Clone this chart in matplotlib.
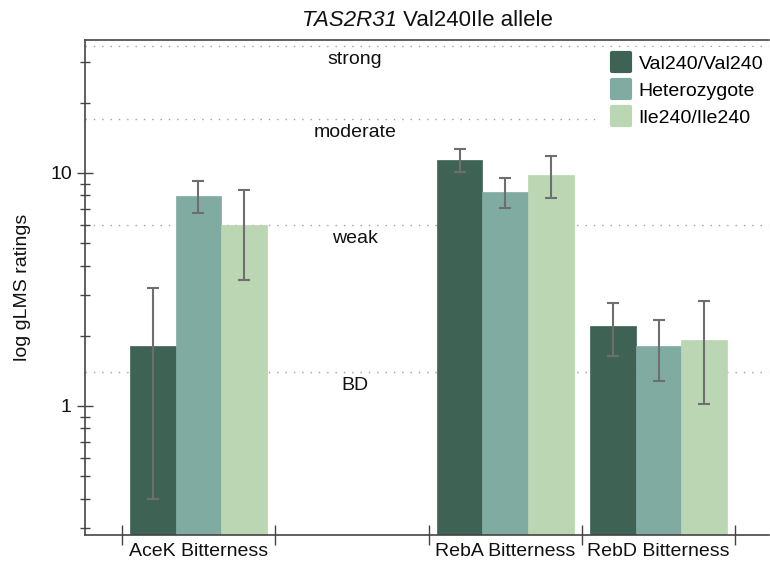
import matplotlib
matplotlib.use("Agg")
import matplotlib.pyplot as plt
import numpy as np
from matplotlib.lines import Line2D
from matplotlib.markers import MarkerStyle
from matplotlib.ticker import FixedLocator, NullFormatter, FixedFormatter, LogLocator

plt.rcParams['font.family'] = ['Liberation Sans', 'DejaVu Sans']

categories = ["AceK Bitterness", "", "RebA Bitterness", "RebD Bitterness"]
genotypes = ["Val240/Val240", "Heterozygote", "Ile240/Ile240"]
colors = ["#3e6355", "#80aba1", "#bad6b3"]

# means per genotype for each category (empty slot = nan)
val_val = [1.8, np.nan, 11.4, 2.2]
hetero = [7.96, np.nan, 8.29, 1.81]
ile_ile = [5.98, np.nan, 9.8, 1.92]
val_val_err = [1.4, np.nan, 1.3, 0.57]
hetero_err = [1.25, np.nan, 1.22, 0.53]
ile_ile_err = [2.5, np.nan, 2.03, 0.9]

gLMS_levels = [35, 17, 6, 1.4]
gLMS_labels = ["strong", "moderate", "weak", "BD"]

title_gene = "TAS2R31"
title_rest = " Val240Ile allele"

fig = plt.figure(figsize=(7.7, 5.66), dpi=100)
ax = fig.add_axes([85/770, 1 - 535/566, (769 - 85)/770, (535 - 40)/566])

x = np.arange(len(categories))
w = 0.297
means = [val_val, hetero, ile_ile]
errs = [val_val_err, hetero_err, ile_ile_err]
for i, (m, e, c) in enumerate(zip(means, errs, colors)):
    m = np.array(m, dtype=float)
    e = np.array(e, dtype=float)
    ok = ~np.isnan(m)
    pos = x[ok] + (i - 1) * w
    ax.bar(pos, m[ok], width=w, color=c, edgecolor=c, linewidth=0.5, zorder=2)
    ax.errorbar(pos, m[ok], yerr=e[ok], fmt='none', ecolor='#6e6e6e',
                elinewidth=1.5, capsize=4, capthick=1.5, zorder=3)

ax.set_yscale('log')
ax.set_ylim(0.279, 37.2)
ax.set_xlim(-0.74, 3.72)

for lvl, lab in zip(gLMS_levels, gLMS_labels):
    ax.axhline(lvl, color='#a0a0a0', lw=1.0, linestyle=(0, (1, 5)), zorder=1)
    ax.text(1.02, lvl * 0.95, lab, ha='center', va='top', fontsize=14, color='#111111')

# y ticks
ax.yaxis.set_major_locator(FixedLocator([1, 10]))
ax.yaxis.set_major_formatter(FixedFormatter(["1", "10"]))
ax.yaxis.set_minor_locator(LogLocator(base=10, subs=np.arange(2, 10)))
ax.yaxis.set_minor_formatter(NullFormatter())
ax.tick_params(axis='y', which='major', direction='inout', length=12, width=1, colors='#444444',
               labelcolor='#111111', labelsize=14)
ax.tick_params(axis='y', which='minor', direction='inout', length=7, width=1, colors='#444444')

# x ticks: boundaries as ticks, labels at centers
ax.set_xticks(np.arange(len(categories) + 1) - 0.5)
ax.set_xticklabels([])
ax.set_xticks(x, minor=True)
ax.set_xticklabels(categories, minor=True)
ax.tick_params(axis='x', which='major', direction='inout', length=14, width=1, colors='#444444')
ax.tick_params(axis='x', which='minor', length=0, labelsize=14, labelcolor='#111111', pad=6)

for s in ['left', 'bottom', 'top']:
    ax.spines[s].set_color('#444444')
    ax.spines[s].set_linewidth(1.2)
ax.spines['right'].set_visible(False)

ax.set_ylabel("log gLMS ratings", fontsize=14, color='#111111', labelpad=14)

# title: italic gene name + regular rest, centered over axes
renderer = fig.canvas.get_renderer()
t1 = fig.text(0, 0, title_gene, fontsize=16, style='italic', color='#111111')
t2 = fig.text(0, 0, title_rest, fontsize=16, color='#111111')
w1 = t1.get_window_extent(renderer).width
w2 = t2.get_window_extent(renderer).width
cx = (85 + 769) / 2
ty = 1 - 26 / 566
x0 = cx - (w1 + w2) / 2
t1.set_position((x0 / 770, ty))
t2.set_position(((x0 + w1) / 770, ty))

handles = [Line2D([], [], linestyle='none', marker=MarkerStyle('s', joinstyle='round'),
                  markersize=12.5, markerfacecolor=c, markeredgecolor=c, markeredgewidth=3)
           for c in colors]
leg = ax.legend(handles, genotypes, loc='upper right', bbox_to_anchor=(1.003, 0.985),
                frameon=True, fontsize=14, handletextpad=0.15, labelspacing=0.48,
                borderaxespad=0.0, handlelength=1.5)
leg.get_frame().set_edgecolor('none')
leg.get_frame().set_facecolor('white')
leg.get_frame().set_alpha(1.0)

fig.savefig("out.png", dpi=100)
